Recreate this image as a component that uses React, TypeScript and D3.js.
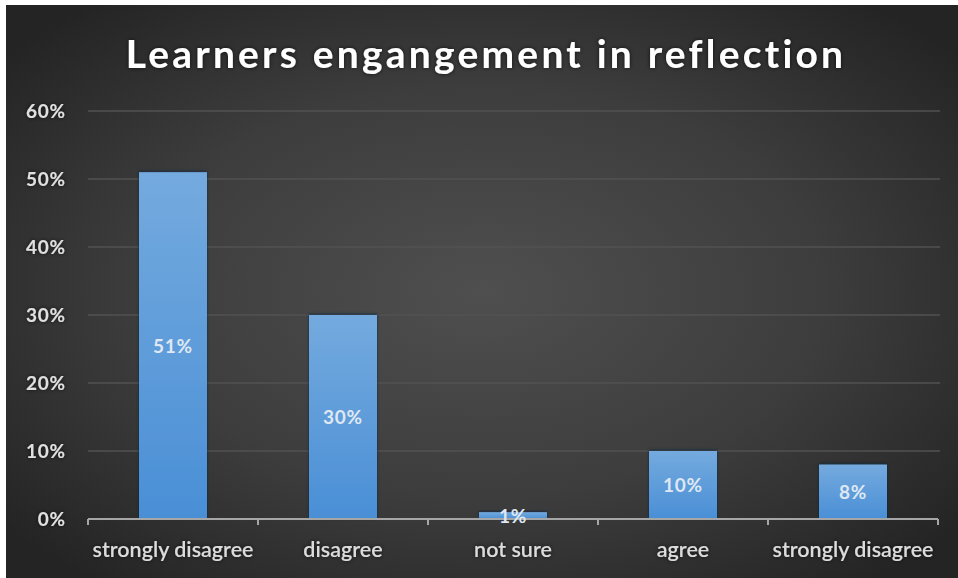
import React from "react";
import * as d3 from "d3";

const categories = ["strongly disagree", "disagree", "not sure", "agree", "strongly disagree "];
const values = [0.51, 0.30, 0.01, 0.10, 0.08];
const valueLabels = ["51%", "30%", "1%", "10%", "8%"];
const yTicks = [0, 0.1, 0.2, 0.3, 0.4, 0.5, 0.6];
const title = "Learners engangement in reflection";

const W = 958;
const H = 578;
const M = { left: 88, right: 938, top: 111, bottom: 519 };

export default function App() {
  const x = d3.scaleBand<string>().domain(categories).range([M.left, M.right]).paddingInner(0.6).paddingOuter(0.3);
  const band = d3.scaleBand<string>().domain(categories).range([M.left, M.right]);
  const y = d3.scaleLinear().domain([0, 0.6]).range([M.bottom, M.top]);
  const fmt = d3.format(".0%");
  const font = "Lato, 'Open Sans', sans-serif";

  return (
    <svg width={W} height={H} style={{ position: "absolute", left: 0, top: 0, background: "#ffffff" }}>
      <defs>
        <radialGradient id="bg" cx="0.5" cy="0.5" r="0.65">
          <stop offset="0" stopColor="#4f4f4f" />
          <stop offset="0.55" stopColor="#3d3d3d" />
          <stop offset="1" stopColor="#242424" />
        </radialGradient>
        <linearGradient id="bar" x1="0" y1="0" x2="0" y2="1">
          <stop offset="0" stopColor="#74aade" />
          <stop offset="1" stopColor="#4a8fd6" />
        </linearGradient>
        <filter id="shadow" x="-20%" y="-20%" width="140%" height="140%">
          <feDropShadow dx="0" dy="0" stdDeviation="2" floodColor="#000" floodOpacity="0.7" />
        </filter>
        <filter id="barShadow" x="-20%" y="-20%" width="140%" height="140%">
          <feDropShadow dx="0" dy="-1" stdDeviation="1.5" floodColor="#0c2540" floodOpacity="0.8" />
        </filter>
      </defs>
      <rect x={6} y={5} width={W - 6} height={H - 5} fill="url(#bg)" />
      <text x={486} y={68} textAnchor="middle" fill="#ffffff" fontFamily={font} fontWeight={700} fontSize={39} letterSpacing={3.2} filter="url(#shadow)">
        {title}
      </text>
      {yTicks.map((t) => (
        <g key={t}>
          {t > 0 && <line x1={M.left} x2={M.right + 2} y1={y(t)} y2={y(t)} stroke="#525252" strokeWidth={1.5} />}
          <text x={66} y={y(t) + 7} textAnchor="end" fill="#e0e0e0" fontFamily={font} fontWeight={700} fontSize={19} letterSpacing={0.8} filter="url(#shadow)">
            {fmt(t)}
          </text>
        </g>
      ))}
      {categories.map((c, i) => (
        <g key={c}>
          <rect x={x(c)} y={y(values[i])} width={x.bandwidth()} height={M.bottom - y(values[i])} fill="url(#bar)" filter="url(#barShadow)" />
        </g>
      ))}
      <line x1={M.left} x2={M.right} y1={M.bottom} y2={M.bottom} stroke="#a6a6a6" strokeWidth={2} />
      {[...categories.map((c) => band(c) as number), M.right].map((tx, i) => (
        <line key={i} x1={tx} x2={tx} y1={M.bottom} y2={M.bottom + 6} stroke="#a6a6a6" strokeWidth={2} />
      ))}
      {categories.map((c, i) => (
        <text key={c} x={(x(c) as number) + x.bandwidth() / 2} y={(y(values[i]) + M.bottom) / 2 + 7} textAnchor="middle" fill="#dfe8f2" fontFamily={font} fontWeight={700} fontSize={19} letterSpacing={0.8}>
          {valueLabels[i]}
        </text>
      ))}
      {categories.map((c) => (
        <text key={c} x={(band(c) as number) + band.bandwidth() / 2} y={557} textAnchor="middle" fill="#dcdcdc" fontFamily={font} fontWeight={600} fontSize={21.5} filter="url(#shadow)">
          {c.trim()}
        </text>
      ))}
    </svg>
  );
}
